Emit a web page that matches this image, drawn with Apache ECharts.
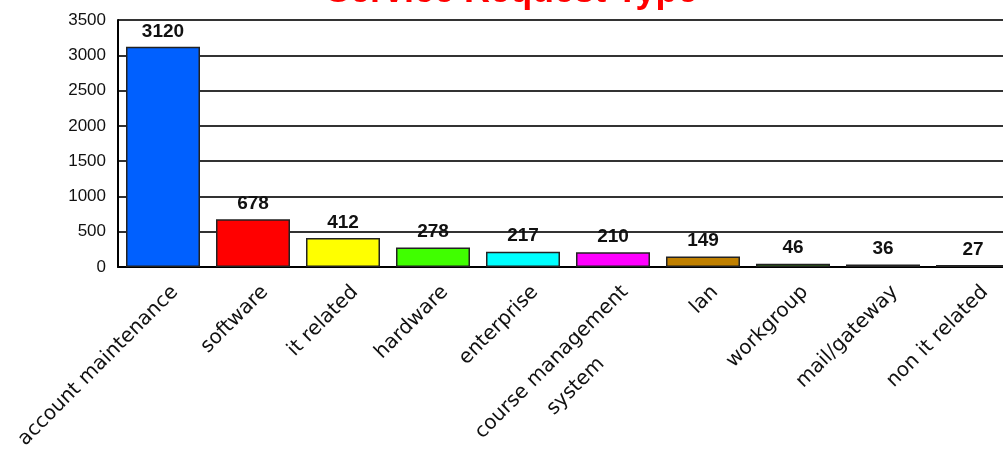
<!DOCTYPE html>
<html>
<head>
<meta charset="utf-8">
<title>Service Request Type</title>
<script src="https://cdn.jsdelivr.net/npm/echarts@6/dist/echarts.min.js"></script>
<style>
  html, body { margin: 0; padding: 0; background: #fff; }
  #main { width: 1003px; height: 454px; }
</style>
</head>
<body>
<div id="main"></div>
<script>
// data
var categories = ['account maintenance', 'software', 'it related', 'hardware', 'enterprise',
    'course management\nsystem', 'lan', 'workgroup', 'mail/gateway', 'non it related'];
var counts = [3120, 678, 412, 278, 217, 210, 149, 46, 36, 27];
var barColors = ['#0060ff', '#ff0000', '#ffff00', '#40ff00', '#00ffff',
    '#ff00ff', '#c08000', '#30c000', '#0050d8', '#000000'];
var yMin = 0, yMax = 3500, yStep = 500;

var barData = [];
for (var i = 0; i < counts.length; i++) {
    barData.push({ value: counts[i], itemStyle: { color: barColors[i] } });
}

var option = {
    backgroundColor: '#fff',
    animation: false,
    title: {
        text: 'Service Request Type',
        left: 326,
        top: -26,
        padding: 0,
        textStyle: { color: '#ff0000', fontSize: 36, fontWeight: 'bold', fontFamily: 'Liberation Sans' }
    },
    grid: { left: 118, top: 20, width: 900, height: 247, outerBoundsMode: 'none', containLabel: false },
    xAxis: {
        type: 'category',
        data: categories,
        axisLine: { lineStyle: { color: '#000', width: 2 } },
        axisTick: { show: false },
        axisLabel: {
            interval: 0,
            rotate: 45,
            margin: 10,
            verticalAlign: 'top',
            color: '#111',
            fontFamily: 'DejaVu Sans',
            fontSize: 20,
            formatter: function (v) { return '{c|' + v + '}'; },
            rich: {
                c: { align: 'center', fontSize: 20, lineHeight: 34, fontFamily: 'DejaVu Sans', color: '#111' }
            }
        }
    },
    yAxis: {
        type: 'value',
        min: yMin,
        max: yMax,
        interval: yStep,
        axisLine: { show: true, lineStyle: { color: '#000', width: 2 } },
        axisTick: { show: false },
        axisLabel: {
            margin: 12, color: '#111', fontSize: 17, fontFamily: 'Liberation Sans',
            formatter: function (v) { return String(v); }
        },
        splitLine: { lineStyle: { color: '#333', width: 2 } }
    },
    series: [{
        type: 'bar',
        data: barData,
        barWidth: 74,
        itemStyle: { borderColor: '#222', borderWidth: 1.5 },
        label: {
            show: true,
            position: 'top',
            distance: 6,
            color: '#111',
            fontSize: 19,
            fontWeight: 'bold',
            fontFamily: 'Liberation Sans'
        }
    }]
};

var myChart = echarts.init(document.getElementById('main'));
myChart.setOption(option);
</script>
</body>
</html>
